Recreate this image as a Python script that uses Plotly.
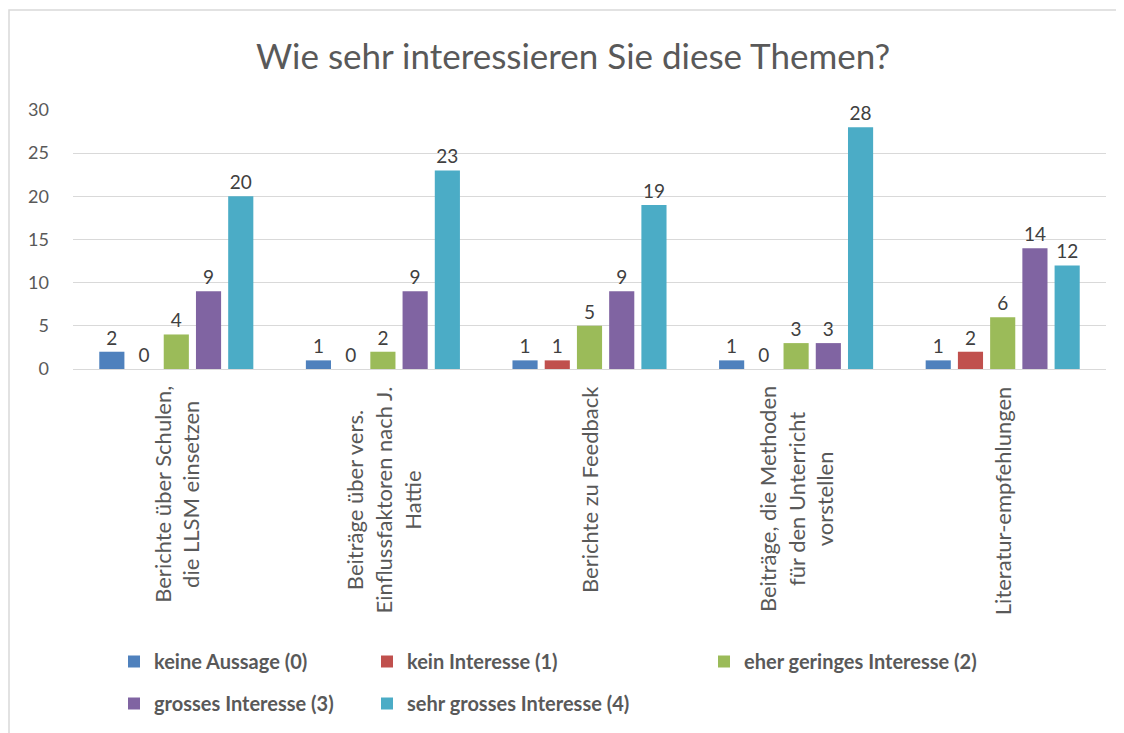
import plotly.graph_objects as go

categories = [
    "Berichte über Schulen,<br>die LLSM einsetzen",
    "Beiträge über vers.<br>Einflussfaktoren nach J.<br>Hattie",
    "Berichte zu Feedback",
    "Beiträge, die Methoden<br>für den Unterricht<br>vorstellen",
    "Literatur-empfehlungen",
]
series_names = [
    "keine Aussage (0)",
    "kein Interesse (1)",
    "eher geringes Interesse (2)",
    "grosses Interesse (3)",
    "sehr grosses Interesse (4)",
]
keine_aussage = [2, 1, 1, 1, 1]
kein_interesse = [0, 0, 1, 0, 2]
eher_gering = [4, 2, 5, 3, 6]
grosses = [9, 9, 9, 3, 14]
sehr_grosses = [20, 23, 19, 28, 12]
y_ticks = [0, 5, 10, 15, 20, 25, 30]

series_values = [keine_aussage, kein_interesse, eher_gering, grosses, sehr_grosses]
colors = ["#4F81BD", "#C0504D", "#9BBB59", "#8064A2", "#4BACC6"]
legend_ids = ["legend", "legend2", "legend3", "legend", "legend2"]

FONT = "Lato, Open Sans, sans-serif"
OFF = 8  # page offset of the plot div
W, H = 1124 - OFF, 733 - OFF
L, R, T, B = 65, 18, 102, 364
PW, PH = W - L - R, H - T - B

fig = go.Figure()
x_idx = list(range(len(categories)))
for i, (name, vals) in enumerate(zip(series_names, series_values)):
    fig.add_trace(go.Bar(
        x=x_idx, y=vals, name=name,
        marker=dict(color=colors[i], line=dict(width=0)),
        text=[str(v) for v in vals], textposition="outside",
        textfont=dict(family=FONT, size=19, color="#404040"),
        cliponaxis=False,
        legend=legend_ids[i], legendgroup=f"g{i}",
    ))

for i, cat in enumerate(categories):
    fig.add_annotation(
        x=i, xref="x", y=-15 / PH, yref="paper",
        text=cat, textangle=-90, showarrow=False,
        xanchor="center", yanchor="top", align="center",
        font=dict(family=FONT, size=22, color="#595959"),
    )

legend_common = dict(
    orientation="v", xref="container", yref="container",
    yanchor="top", xanchor="left", bgcolor="rgba(0,0,0,0)",
    font=dict(family=FONT, size=20, color="#595959", weight="bold"),
    tracegroupgap=13, traceorder="grouped",
)
top = 1 - (642 - OFF) / H
fig.update_layout(
    width=W, height=H,
    paper_bgcolor="white", plot_bgcolor="white",
    margin=dict(l=L, r=R, t=T, b=B, autoexpand=False),
    barmode="group", bargap=0.22, bargroupgap=0.22,
    title=dict(
        text="Wie sehr interessieren Sie diese Themen?",
        x=(573 - OFF) / W, xanchor="center", y=1 - (57 - OFF) / H, yanchor="middle",
        font=dict(family=FONT, size=35, color="#595959"),
    ),
    xaxis=dict(
        range=[-0.5, 4.5], showticklabels=False, showgrid=False,
        showline=False, zeroline=False, ticks="",
    ),
    yaxis=dict(
        range=[0, 30], tickvals=y_ticks, showgrid=True, gridcolor="#D9D9D9",
        gridwidth=1, zeroline=True, zerolinecolor="#D9D9D9", zerolinewidth=1,
        showline=False, ticks="", ticklabelstandoff=23,
        tickfont=dict(family=FONT, size=18, color="#595959"),
    ),
    legend=dict(x=(114 - OFF) / W, y=top, **legend_common),
    legend2=dict(x=(367 - OFF) / W, y=top, **legend_common),
    legend3=dict(x=(704 - OFF) / W, y=top, **legend_common),
    showlegend=True,
    shapes=[dict(
        type="rect", xref="paper", yref="paper",
        x0=(-L + 1) / PW, x1=1.2, y0=-2, y1=(PH + T - 2) / PH,
        line=dict(color="#D9D9D9", width=1.5), fillcolor="rgba(0,0,0,0)",
        layer="below",
    )],
)

fig.write_html("out.html")
